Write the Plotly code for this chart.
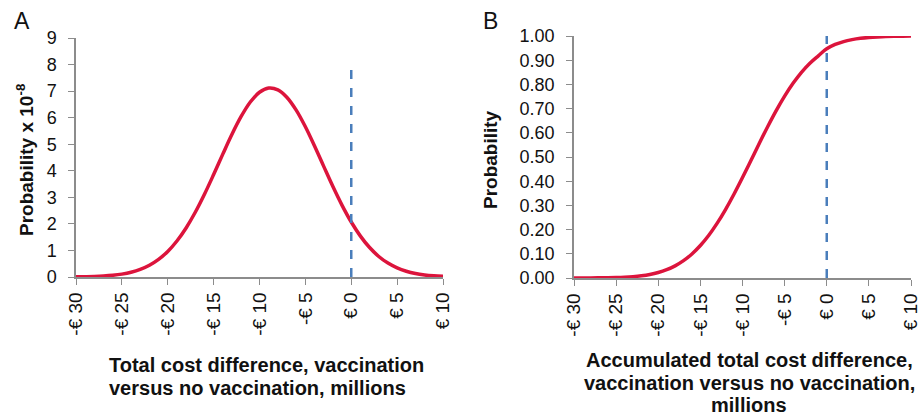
import plotly.graph_objects as go

# Data
cost_millions = [-30, -29, -28, -27, -26, -25, -24, -23, -22, -21, -20, -19, -18, -17, -16,
                 -15, -14, -13, -12, -11, -10, -9, -8, -7, -6, -5, -4, -3, -2, -1,
                 0, 1, 2, 3, 4, 5, 6, 7, 8, 9, 10]
density_e8 = [0.005, 0.011, 0.020, 0.036, 0.064, 0.109, 0.179, 0.286, 0.443, 0.664,
              0.963, 1.356, 1.848, 2.437, 3.116, 3.858, 4.627, 5.376, 6.046, 6.591,
              6.958, 7.116, 7.048, 6.762, 6.283, 5.656, 4.931, 4.165, 3.406, 2.699,
              2.071, 1.540, 1.109, 0.773, 0.523, 0.342, 0.217, 0.133, 0.079, 0.046, 0.025]
cumulative = [0.0001, 0.0002, 0.0003, 0.0006, 0.0011, 0.0019, 0.0033, 0.0056, 0.0092, 0.0147,
              0.0228, 0.0343, 0.0502, 0.0716, 0.0993, 0.1341, 0.1765, 0.2266, 0.2839, 0.3472,
              0.4152, 0.4857, 0.5568, 0.6260, 0.6915, 0.7514, 0.8043, 0.8499, 0.8877, 0.9182,
              0.9470, 0.9650, 0.9770, 0.9850, 0.9905, 0.9940, 0.9963, 0.9978, 0.9988, 0.9994, 0.9997]
ref_x = [0, 0]
ref_y_a = [0, 8.1]
ref_y_b = [0, 1.02]
x_tickvals = [-30, -25, -20, -15, -10, -5, 0, 5, 10]
x_ticktext = ["-€ 30", "-€ 25", "-€ 20", "-€ 15", "-€ 10", "-€ 5", "€ 0", "€ 5", "€ 10"]
title_a_lines = ["Total cost difference, vaccination", "versus no vaccination, millions"]
title_b_lines = ["Accumulated total cost difference,", "vaccination versus no vaccination,", "millions"]

RED = "#DC143C"
BLUE = "#4A7EBB"
AX = "#8C8C8C"
FONT = "Liberation Sans, Arial, sans-serif"

fig = go.Figure()
fig.add_trace(go.Scatter(x=cost_millions, y=density_e8, mode="lines", line=dict(color=RED, width=3.5, shape="spline"),
                         xaxis="x", yaxis="y", showlegend=False))
fig.add_trace(go.Scatter(x=ref_x, y=ref_y_a, mode="lines", line=dict(color=BLUE, width=2.5, dash="dash"),
                         xaxis="x", yaxis="y", showlegend=False))
fig.add_trace(go.Scatter(x=cost_millions, y=cumulative, mode="lines", line=dict(color=RED, width=3.5, shape="spline"),
                         xaxis="x2", yaxis="y2", showlegend=False))
fig.add_trace(go.Scatter(x=ref_x, y=ref_y_b, mode="lines", line=dict(color=BLUE, width=2.5, dash="dash"),
                         xaxis="x2", yaxis="y2", showlegend=False))

W, H = 921, 417
def px(x):
    return x / W
def py(y):
    return 1 - y / H

xcommon = dict(range=[-30, 10], tickvals=x_tickvals, ticktext=x_ticktext, tickangle=-90,
               showline=True, linecolor=AX, linewidth=1.5, ticks="outside", tickcolor=AX, ticklen=6,
               showgrid=False, zeroline=False, tickfont=dict(size=19, color="#111", family=FONT),
               fixedrange=True, automargin=False, ticklabeloverflow="allow")
ycommon = dict(showline=True, linecolor=AX, linewidth=1.5, ticks="outside", tickcolor=AX, ticklen=6,
               showgrid=False, zeroline=False, tickfont=dict(size=18, color="#111", family=FONT),
               fixedrange=True, automargin=False, ticklabelstandoff=8, ticklabeloverflow="allow")

fig.update_layout(
    width=W, height=H,
    margin=dict(l=0, r=0, t=0, b=0),
    paper_bgcolor="white", plot_bgcolor="white",
    font=dict(family=FONT, color="#111"),
    xaxis=dict(domain=[px(76), px(443)], anchor="y", **xcommon),
    yaxis=dict(domain=[py(277), py(38)], anchor="x", range=[0, 9], dtick=1, **ycommon),
    xaxis2=dict(domain=[px(574), px(911)], anchor="y2", **xcommon),
    yaxis2=dict(domain=[py(278), py(36)], anchor="x2", range=[0, 1], dtick=0.1, tickformat=".2f", **ycommon),
)

ann = []
ann.append(dict(text="A", x=px(12), y=py(21), xref="paper", yref="paper", showarrow=False,
                xanchor="left", yanchor="middle", font=dict(size=23, color="#111")))
ann.append(dict(text="B", x=px(481), y=py(21), xref="paper", yref="paper", showarrow=False,
                xanchor="left", yanchor="middle", font=dict(size=23, color="#111")))
for i, line in enumerate(title_a_lines):
    ann.append(dict(text="<b>" + line + "</b>", x=px(107), y=py(365 + 23 * i), xref="paper", yref="paper",
                    showarrow=False, xanchor="left", yanchor="middle", font=dict(size=20, color="#111")))
for i, line in enumerate(title_b_lines):
    ann.append(dict(text="<b>" + line + "</b>", x=px(749), y=py(360 + 22.5 * i), xref="paper", yref="paper",
                    showarrow=False, xanchor="center", yanchor="middle", font=dict(size=20, color="#111")))
ann.append(dict(text="<b>Probability x 10<sup>-8</sup></b>", x=px(25), y=py(160), xref="paper", yref="paper",
                showarrow=False, textangle=-90, xanchor="center", yanchor="middle", font=dict(size=19, color="#111")))
ann.append(dict(text="<b>Probability</b>", x=px(490), y=py(160), xref="paper", yref="paper",
                showarrow=False, textangle=-90, xanchor="center", yanchor="middle", font=dict(size=19, color="#111")))
fig.update_layout(annotations=ann)

fig.write_html("out.html", config={"displayModeBar": False},
               post_script="document.body.style.margin='0';document.body.style.overflow='hidden';")
